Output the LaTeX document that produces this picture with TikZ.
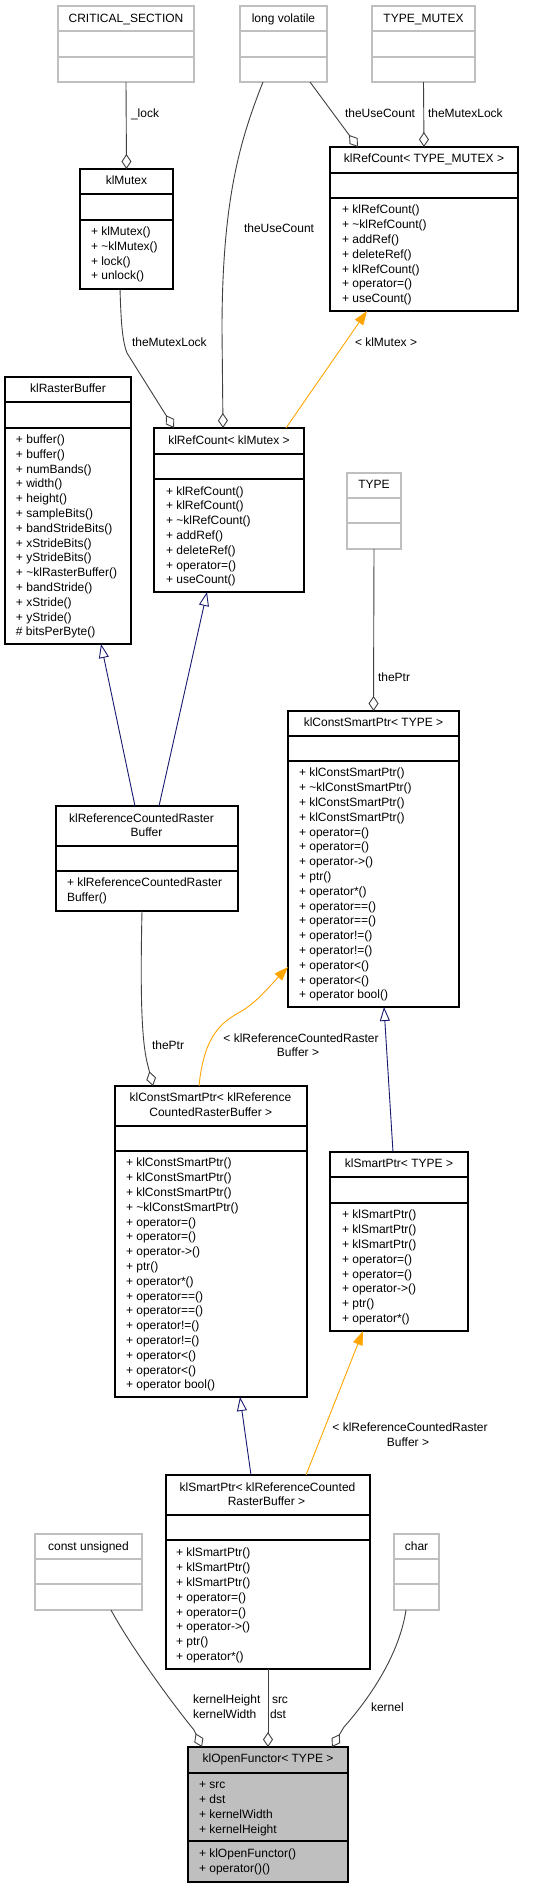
\documentclass[tikz,border=0pt]{standalone}
\usepackage{fontspec}
\setmainfont{Liberation Sans}
\usetikzlibrary{arrows.meta}
\definecolor{edgegray}{HTML}{404040}
\definecolor{boxgray}{HTML}{BFBFBF}
\definecolor{midblue}{HTML}{191970}
\definecolor{tmplorange}{HTML}{FFA500}
\definecolor{fillgray}{HTML}{BFBFBF}
% #1 name, #2 style, #3 x1, #4 y1, #5 x2, #6 y2, #7 sep1, #8 sep2
\newcommand\cbox[8]{%
  \pgfmathsetmacro\cbw{#5-#3}\pgfmathsetmacro\cbh{#6-#4}%
  \node[#2, minimum width=\cbw pt, minimum height=\cbh pt] (#1) at (#3,#4) {};
  \draw[#2line] (#3,#7) -- (#5,#7) (#3,#8) -- (#5,#8);
}
% #1 prefix, #2 x, #3 first baseline, #4 list
\newcommand\mems[4]{%
  \foreach \t [count=\i from 0] in {#4} {\node[txt, anchor=base west] (#1\i) at (#2, #3+\i*14.8) {\t};}%
}
\tikzset{
  txt/.style={font=\fontsize{12}{14.8}\selectfont, inner sep=0, outer sep=0, text=black},
  bk/.style={draw=black, line width=1.1pt, fill=white, anchor=north west, inner sep=0, outer sep=0},
  gr/.style={draw=boxgray, line width=1.1pt, fill=white, anchor=north west, inner sep=0, outer sep=0},
  fl/.style={draw=black, line width=1.1pt, fill=fillgray, anchor=north west, inner sep=0, outer sep=0},
  bkline/.style={draw=black, line width=1.1pt},
  grline/.style={draw=boxgray, line width=1.1pt},
  flline/.style={draw=black, line width=1.1pt},
  agg/.style={draw=edgegray, line width=0.9pt, -{Diamond[open, length=15pt, width=10pt, line width=0.9pt]}},
  inh/.style={draw=midblue, line width=0.9pt, -{Triangle[open, length=14pt, width=10pt, line width=0.9pt]}},
  tmpl/.style={draw=tmplorange, line width=0.9pt, -{Triangle[length=14pt, width=10pt]}},
}
\begin{document}
\begin{tikzpicture}[x=1pt, y=-1pt]
\useasboundingbox[fill=white] (0,0) rectangle (541,1888);

% ---------- boxes ----------
\cbox{CS}{gr}{58}{6}{194}{82}{31}{57}
\node[txt, anchor=base] (CS-t) at (126,22) {CRITICAL\_SECTION};
\cbox{LV}{gr}{240}{6}{327}{82}{31}{57}
\node[txt, anchor=base] (LV-t) at (283.5,22) {long volatile};
\cbox{TM}{gr}{372}{6}{475}{82}{31}{57}
\node[txt, anchor=base] (TM-t) at (423.5,22) {TYPE\_MUTEX};

\cbox{KM}{bk}{80}{169}{173}{289}{194}{220}
\node[txt, anchor=base] (KM-t) at (126.5,184.8) {klMutex};
\mems{KMm}{91}{235.5}{{+ klMutex()},{+ \textasciitilde klMutex()},{+ lock()},{+ unlock()}}

\cbox{RCTM}{bk}{330}{147}{518}{311}{173}{198}
\node[txt, anchor=base] (RCTM-t) at (424,162.8) {klRefCount< TYPE\_MUTEX >};
\mems{RCTMm}{342}{213.8}{{+ klRefCount()},{+ \textasciitilde klRefCount()},{+ addRef()},{+ deleteRef()},{+ klRefCount()},{+ operator=()},{+ useCount()}}

\cbox{RB}{bk}{5}{377}{131}{644}{402}{428}
\node[txt, anchor=base] (RB-t) at (68,392.8) {klRasterBuffer};
\mems{RBm}{16}{443.5}{{+ buffer()},{+ buffer()},{+ numBands()},{+ width()},{+ height()},{+ sampleBits()},{+ bandStrideBits()},{+ xStrideBits()},{+ yStrideBits()},{+ \textasciitilde klRasterBuffer()},{+ bandStride()},{+ xStride()},{+ yStride()},{\# bitsPerByte()}}

\cbox{RCM}{bk}{154}{428}{304}{592}{454}{479}
\node[txt, anchor=base] (RCM-t) at (229,444.5) {klRefCount< klMutex >};
\mems{RCMm}{166}{495}{{+ klRefCount()},{+ klRefCount()},{+ \textasciitilde klRefCount()},{+ addRef()},{+ deleteRef()},{+ operator=()},{+ useCount()}}

\cbox{TY}{gr}{347}{473}{401}{549}{498}{523}
\node[txt, anchor=base] (TY-t) at (374,488.8) {TYPE};

\cbox{RCRB}{bk}{56}{806}{238}{911}{846}{871}
\node[txt, anchor=base] (RCRB-t1) at (141.5,822.2) {klReferenceCountedRaster};
\node[txt, anchor=base] (RCRB-t2) at (146.5,836.8) {Buffer};
\mems{RCRBm}{67}{886.5}{{+ klReferenceCountedRaster},{Buffer()}}

\cbox{CSPT}{bk}{288}{711}{459}{1007}{736}{761}
\node[txt, anchor=base] (CSPT-t) at (373.5,726.8) {klConstSmartPtr< TYPE >};
\mems{CSPTm}{299}{776.8}{{+ klConstSmartPtr()},{+ \textasciitilde klConstSmartPtr()},{+ klConstSmartPtr()},{+ klConstSmartPtr()},{+ operator=()},{+ operator=()},{+ operator->()},{+ ptr()},{+ operator*()},{+ operator==()},{+ operator==()},{+ operator!=()},{+ operator!=()},{+ operator<()},{+ operator<()},{+ operator bool()}}

\cbox{CSPR}{bk}{115}{1086}{307}{1397}{1126}{1151}
\node[txt, anchor=base] (CSPR-t1) at (210.5,1101.8) {klConstSmartPtr< klReference};
\node[txt, anchor=base] (CSPR-t2) at (210.8,1116.8) {CountedRasterBuffer >};
\mems{CSPRm}{126}{1166.8}{{+ klConstSmartPtr()},{+ klConstSmartPtr()},{+ klConstSmartPtr()},{+ \textasciitilde klConstSmartPtr()},{+ operator=()},{+ operator=()},{+ operator->()},{+ ptr()},{+ operator*()},{+ operator==()},{+ operator==()},{+ operator!=()},{+ operator!=()},{+ operator<()},{+ operator<()},{+ operator bool()}}

\cbox{SPT}{bk}{330}{1152}{468}{1331}{1177}{1203}
\node[txt, anchor=base] (SPT-t) at (399,1167.8) {klSmartPtr< TYPE >};
\mems{SPTm}{342}{1218.8}{{+ klSmartPtr()},{+ klSmartPtr()},{+ klSmartPtr()},{+ operator=()},{+ operator=()},{+ operator->()},{+ ptr()},{+ operator*()}}

\cbox{SPR}{bk}{166}{1475}{370}{1669}{1515}{1540}
\node[txt, anchor=base] (SPR-t1) at (267.5,1491.2) {klSmartPtr< klReferenceCounted};
\node[txt, anchor=base] (SPR-t2) at (266.5,1505.8) {RasterBuffer >};
\mems{SPRm}{176}{1556.8}{{+ klSmartPtr()},{+ klSmartPtr()},{+ klSmartPtr()},{+ operator=()},{+ operator=()},{+ operator->()},{+ ptr()},{+ operator*()}}

\cbox{CU}{gr}{35}{1534}{142}{1610}{1559}{1584}
\node[txt, anchor=base] (CU-t) at (88.5,1550.2) {const unsigned};
\cbox{CH}{gr}{394}{1534}{439}{1610}{1559}{1584}
\node[txt, anchor=base] (CH-t) at (416.5,1550.2) {char};

\cbox{OF}{fl}{188}{1747}{348}{1882}{1773}{1841}
\node[txt, anchor=base] (OF-t) at (268,1762.8) {klOpenFunctor< TYPE >};
\mems{OFa}{199}{1788.8}{{+ src},{+ dst},{+ kernelWidth},{+ kernelHeight}}
\mems{OFm}{199}{1857.8}{{+ klOpenFunctor()},{+ operator()()}}

% ---------- connectors ----------
\draw[agg] (CS.south) -- (KM.north);
\draw[agg] ([xshift=-17pt]LV.south east) -- ([xshift=28pt]RCTM.north west);
\draw[agg] (TM.south) -- (RCTM.north);
\draw[agg] ([xshift=23pt]LV.south west) .. controls (240,140) and (222,200) .. (222,330) -- ([xshift=69pt]RCM.north west);
\draw[agg] ([xshift=40pt]KM.south west) .. controls (121,320) and (122,340) .. (127,353) -- ([xshift=20pt]RCM.north west);
\draw[tmpl] ([xshift=132pt]RCM.north west) -- ([xshift=37pt]RCTM.south west);
\draw[agg] (TY.south) -- (CSPT.north);
\draw[inh] ([xshift=103pt]RCRB.north west) -- ([xshift=53pt]RCM.south west);
\draw[inh] ([xshift=79pt]RCRB.north west) -- ([xshift=96pt]RB.south west);
\draw[agg] ([xshift=86pt]RCRB.south west) .. controls (140,1000) and (142,1040) .. (147,1062) -- ([xshift=38pt]CSPR.north west);
\draw[tmpl] ([xshift=84pt]CSPR.north west) .. controls (204,1035) and (222,1022) .. (240,1012) .. controls (256,1003) and (268,988) .. ([yshift=40pt]CSPT.south west);
\draw[inh] ([xshift=63pt]SPT.north west) -- ([xshift=96pt]CSPT.south west);
\draw[inh] ([xshift=85pt]SPR.north west) -- ([xshift=125pt]CSPR.south west);
\draw[tmpl] ([xshift=140pt]SPR.north west) -- ([xshift=33pt]SPT.south west);
\draw[agg] ([xshift=76pt]CU.south west) .. controls (130,1645) and (168,1698) .. (194,1730) -- ([xshift=14pt]OF.north west);
\draw[agg] (SPR.south) -- (OF.north);
\draw[agg] ([xshift=12pt]CH.south west) .. controls (400,1650) and (375,1692) .. (344,1727) -- ([xshift=144pt]OF.north west);

% ---------- connector labels ----------
\node[txt, anchor=base west] (L1) at (131,117.5) {\_lock};
\node[txt, anchor=base west] (L2) at (345,117.5) {theUseCount};
\node[txt, anchor=base west] (L3) at (428,117.5) {theMutexLock};
\node[txt, anchor=base west] (L4) at (244,232.5) {theUseCount};
\node[txt, anchor=base west] (L5) at (132,346.5) {theMutexLock};
\node[txt, anchor=base west] (L6) at (355,346.5) {< klMutex >};
\node[txt, anchor=base west] (L7) at (378,681.5) {thePtr};
\node[txt, anchor=base west] (L8) at (152,1049.5) {thePtr};
\node[txt, anchor=base] (L9a) at (301,1042.5) {< klReferenceCountedRaster};
\node[txt, anchor=base] (L9b) at (298,1056.5) {Buffer >};
\node[txt, anchor=base] (L10a) at (410,1431.5) {< klReferenceCountedRaster};
\node[txt, anchor=base] (L10b) at (408,1446.5) {Buffer >};
\node[txt, anchor=base west] (L11a) at (193,1703.5) {kernelHeight};
\node[txt, anchor=base west] (L11b) at (193,1718.5) {kernelWidth};
\node[txt, anchor=base west] (L12a) at (272,1703.5) {src};
\node[txt, anchor=base west] (L12b) at (270,1718.5) {dst};
\node[txt, anchor=base west] (L13) at (371,1711.5) {kernel};
\end{tikzpicture}
\end{document}
